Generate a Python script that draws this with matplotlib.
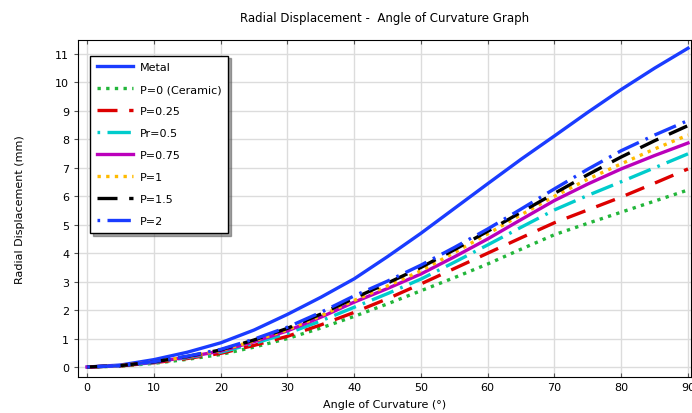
import numpy as np
import matplotlib.pyplot as plt

# angle of curvature (deg)
angle = [0, 5, 10, 15, 20, 25, 30, 35, 40, 45, 50, 55, 60, 65, 70, 75, 80, 85, 90]

# radial displacement (mm) for each material
metal = [0, 0.07, 0.26, 0.52, 0.85, 1.3, 1.85, 2.45, 3.1, 3.88, 4.7, 5.57, 6.44, 7.3, 8.12, 8.95, 9.75, 10.5, 11.2]
p0 = [0, 0.03, 0.13, 0.27, 0.44, 0.7, 1.0, 1.37, 1.78, 2.22, 2.68, 3.14, 3.62, 4.14, 4.65, 5.05, 5.44, 5.83, 6.22]
p025 = [0, 0.04, 0.15, 0.3, 0.48, 0.76, 1.08, 1.48, 1.92, 2.4, 2.92, 3.46, 4.0, 4.54, 5.07, 5.52, 5.97, 6.46, 6.96]
p05 = [0, 0.04, 0.16, 0.33, 0.52, 0.83, 1.18, 1.62, 2.1, 2.58, 3.09, 3.68, 4.29, 4.91, 5.52, 6.03, 6.51, 7.0, 7.49]
p075 = [0, 0.05, 0.17, 0.35, 0.56, 0.89, 1.27, 1.75, 2.28, 2.76, 3.27, 3.87, 4.5, 5.18, 5.85, 6.43, 6.96, 7.43, 7.87]
p1 = [0, 0.05, 0.18, 0.36, 0.58, 0.92, 1.31, 1.8, 2.34, 2.85, 3.38, 4.02, 4.68, 5.35, 6.0, 6.6, 7.14, 7.66, 8.15]
p15 = [0, 0.05, 0.18, 0.37, 0.6, 0.95, 1.36, 1.86, 2.42, 2.95, 3.5, 4.12, 4.77, 5.44, 6.1, 6.76, 7.38, 7.95, 8.48]
p2 = [0, 0.05, 0.19, 0.38, 0.62, 0.98, 1.4, 1.92, 2.5, 3.02, 3.58, 4.2, 4.85, 5.55, 6.26, 6.95, 7.6, 8.15, 8.66]

labels = ['Metal', 'P=0 (Ceramic)', 'P=0.25', 'Pr=0.5', 'P=0.75', 'P=1', 'P=1.5', 'P=2']
series = [metal, p0, p025, p05, p075, p1, p15, p2]
colors = ['#1a3cff', '#22b63a', '#dd0000', '#00cccc', '#bb00bb', '#ffbb00', '#000000', '#1a3cff']
styles = ['-', (0, (1, 1.6)), (0, (6, 3.5)), (0, (0.8, 2.2, 7, 2.2)), '-', (0, (1, 1.6)),
          (0, (6, 3.5)), (0, (0.8, 2.2, 7, 2.2))]

fig = plt.figure(figsize=(6.92, 4.14), dpi=100)
ax = fig.add_axes([0.113, 0.087, 0.886, 0.814])

for ys, lab, c, ls in zip(series, labels, colors, styles):
    ax.plot(angle, ys, color=c, linestyle=ls, linewidth=2.4, label=lab)

ax.set_xlim(-1.35, 90.5)
ax.set_ylim(-0.35, 11.49)
ax.set_xticks(np.arange(0, 91, 10))
ax.set_yticks(np.arange(0, 12, 1))
ax.grid(True, color='#dcdcdc', linewidth=1)
ax.set_axisbelow(True)
ax.tick_params(labelsize=8, length=3, color='#555555')
ax.tick_params(axis='x', direction='in', top=True)
ax.tick_params(axis='y', direction='out')

ax.set_xlabel('Angle of Curvature (°)', fontsize=8, labelpad=5)
ax.set_ylabel('Radial Displacement (mm)', fontsize=8, labelpad=22)
ax.set_title('Radial Displacement -  Angle of Curvature Graph', fontsize=8.5, pad=14)

leg = ax.legend(loc='upper left', bbox_to_anchor=(0.01, 0.97), fontsize=8, frameon=True,
                fancybox=False, shadow=True, handlelength=3.3, labelspacing=1.08,
                borderpad=0.6, handletextpad=0.6)
leg.get_frame().set_edgecolor('black')
leg.get_frame().set_linewidth(1)

fig.savefig('out.png', dpi=100)
